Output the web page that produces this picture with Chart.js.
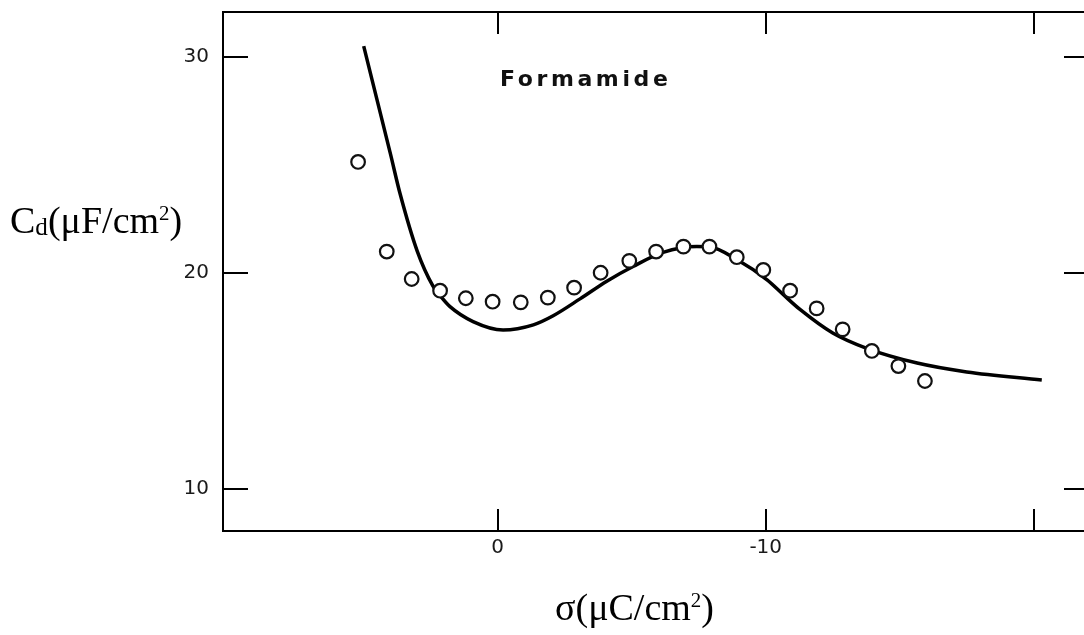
<!DOCTYPE html>
<html>
<head>
<meta charset="utf-8">
<script src="https://cdn.jsdelivr.net/npm/chart.js@4.4.1/dist/chart.umd.min.js"></script>
<style>
  html, body { margin: 0; padding: 0; background: #fff; overflow: hidden; width: 1084px; height: 635px; }
  #wrap { position: relative; width: 1084px; height: 635px; overflow: hidden; }
  canvas { position: absolute; left: 0; top: 0; }
  .ttl { position: absolute; font-family: "Liberation Serif", "Times New Roman", serif; font-size: 38px; line-height: 38px; color: #000; white-space: nowrap; }
  .sub { font-size: 0.66em; position: relative; top: 0.08em; }
  .sup { font-size: 0.55em; position: relative; top: -0.62em; }
  #ann { position: absolute; left: 500px; top: 68px; font-family: "DejaVu Sans", sans-serif; font-weight: bold; font-size: 22px; line-height: 21px; letter-spacing: 3.6px; color: #111; white-space: nowrap; }
</style>
</head>
<body>
<div id="wrap">
  <canvas id="c" width="1088" height="635" style="width:1088px;height:635px"></canvas>
  <div class="ttl" id="ytitle" style="left:10px; top:201px;">C<span class="sub">d</span>(μF/cm<span class="sup">2</span>)</div>
  <div class="ttl" id="xtitle" style="left:555px; top:588px;">σ(μC/cm<span class="sup">2</span>)</div>
  <div id="ann">Formamide</div>
</div>
<script>
// ---- data ----
const fitSigma = [5.0, 4.5, 4.0, 3.65, 3.0, 2.42, 2.15, 1.78, 0.92, -0.2, -1.33, -2.07, -3.07, -4.07, -5.05, -6.17, -7.43, -7.92, -8.92, -10.05, -10.67, -11.29, -12.5, -13.77, -15.65, -17.5, -20.3];
const fitCd    = [30.5, 28.0, 25.5, 23.7, 21.0, 19.4, 18.95, 18.44, 17.75, 17.36, 17.6, 18.02, 18.8, 19.62, 20.3, 20.95, 21.22, 21.2, 20.62, 19.68, 18.98, 18.3, 17.22, 16.51, 15.83, 15.42, 15.05];

const expSigma = [5.21, 4.14, 3.21, 2.15, 1.19, 0.19, -0.86, -1.87, -2.85, -3.84, -4.91, -5.91, -6.93, -7.9, -8.92, -9.91, -10.91, -11.9, -12.87, -13.96, -14.95, -15.94];
const expCd    = [25.14, 20.99, 19.72, 19.18, 18.83, 18.67, 18.64, 18.86, 19.32, 20.01, 20.56, 20.99, 21.22, 21.22, 20.73, 20.14, 19.18, 18.36, 17.39, 16.39, 15.69, 15.0];

const xTicks = [0, -10, -20];
const xTickLabels = ["0", "-10", ""];
const yTicks = [10, 20, 30];
const yTickLabels = ["10", "20", "30"];

const fitPts = fitSigma.map((s, i) => ({ x: s, y: fitCd[i] }));
const expPts = expSigma.map((s, i) => ({ x: s, y: expCd[i] }));

const frame = {
  id: 'frame',
  afterDraw(chart) {
    const ctx = chart.ctx, a = chart.chartArea;
    const xs = chart.scales.x, ys = chart.scales.y;
    ctx.save();
    ctx.strokeStyle = '#000';
    ctx.lineWidth = 2;
    ctx.beginPath();
    ctx.moveTo(a.left - 1, a.top); ctx.lineTo(a.right + 4, a.top);
    xTicks.forEach(v => {
      const px = Math.round(xs.getPixelForValue(v));
      ctx.moveTo(px, a.bottom); ctx.lineTo(px, a.bottom - 22);
      ctx.moveTo(px, a.top); ctx.lineTo(px, a.top + 22);
    });
    yTicks.forEach(v => {
      const py = Math.round(ys.getPixelForValue(v));
      ctx.moveTo(a.left, py); ctx.lineTo(a.left + 25, py);
      ctx.moveTo(a.right, py); ctx.lineTo(a.right - 22, py);
    });
    ctx.stroke();
    ctx.restore();
  }
};

new Chart(document.getElementById('c'), {
  type: 'scatter',
  data: {
    datasets: [
      {
        label: 'theory',
        data: fitPts,
        showLine: true,
        borderColor: '#000',
        borderWidth: 3.5,
        pointRadius: 0,
        cubicInterpolationMode: 'monotone',
        fill: false,
        order: 2
      },
      {
        label: 'experiment',
        data: expPts,
        showLine: false,
        pointStyle: 'circle',
        pointRadius: 6.8,
        pointBorderWidth: 2.2,
        pointBorderColor: '#111',
        pointBackgroundColor: '#fff',
        order: 1
      }
    ]
  },
  options: {
    responsive: false,
    animation: false,
    devicePixelRatio: 1,
    layout: { autoPadding: false, padding: { left: 0, top: 12, right: 2, bottom: 0 } },
    plugins: { legend: { display: false }, tooltip: { enabled: false } },
    scales: {
      x: {
        type: 'linear',
        reverse: true,
        min: -21.95,
        max: 10.25,
        afterBuildTicks: s => { s.ticks = xTicks.map(v => ({ value: v })); },
        afterFit: s => { s.height = 104; s.paddingLeft = 0; s.paddingRight = 0; },
        grid: { display: false, drawTicks: false },
        border: { display: true, color: '#000', width: 2 },
        ticks: {
          padding: 5,
          color: '#1a1a1a',
          font: { family: 'DejaVu Sans', size: 20 },
          callback: (v) => xTickLabels[xTicks.indexOf(v)] ?? ''
        }
      },
      y: {
        type: 'linear',
        min: 8.056,
        max: 32.08,
        afterBuildTicks: s => { s.ticks = yTicks.map(v => ({ value: v })); },
        afterFit: s => { s.width = 223; s.paddingTop = 0; s.paddingBottom = 0; },
        grid: { display: false, drawTicks: false },
        border: { display: true, color: '#000', width: 2 },
        ticks: {
          padding: 14,
          color: '#1a1a1a',
          font: { family: 'DejaVu Sans', size: 20 },
          callback: (v) => yTickLabels[yTicks.indexOf(v)] ?? ''
        }
      }
    }
  },
  plugins: [frame]
});
</script>
</body>
</html>
